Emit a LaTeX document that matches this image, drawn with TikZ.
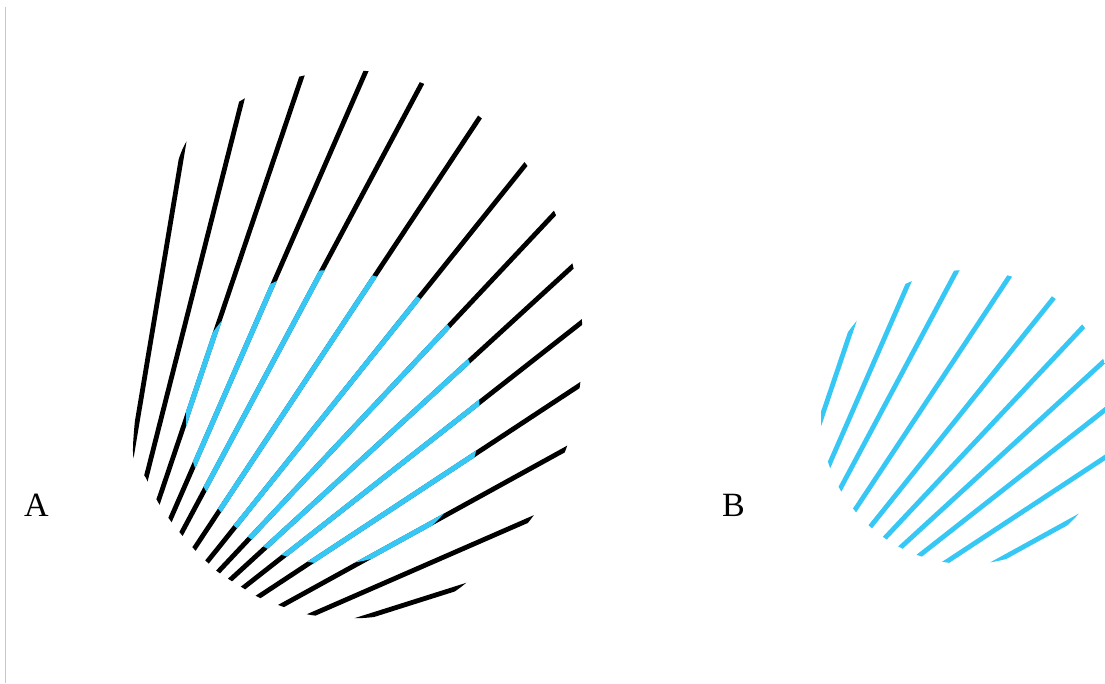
\documentclass[tikz,border=0pt]{standalone}
\usepackage{fontspec}
\setmainfont{Liberation Serif}
\definecolor{fanblue}{RGB}{54,199,244}
\begin{document}
\begin{tikzpicture}[x=1pt,y=-1pt,
  blackline/.style={line width=4.8pt, black, line cap=butt, shorten <=-15pt, shorten >=-15pt},
  blueline/.style={line width=4.8pt, fanblue, line cap=butt, shorten <=-15pt, shorten >=-15pt},
  panellabel/.style={font=\fontsize{34}{40}\selectfont, inner sep=0pt, anchor=base},
  frameline/.style={line width=1pt, black!22}]
\useasboundingbox (0,0) rectangle (1105,683);
\clip (0,0) rectangle (1105,683);
\draw[frameline] (5,7) -- (5,683);
\def\fanlines{133/447/183/148, 146/478/242/100, 158/502/302/76, 170/520/366/71,
  181/534/422/83, 194/549/480/117, 207/562/526/164, 218/572/555/213,
  230/580/573/266, 243/588/582/322, 258/597/580/385, 281/606/566/449,
  311/615/531/519, 363/618/461/587}
% panel A
\begin{scope}
  \clip plot[smooth cycle, tension=0.5] coordinates {
    (133,447) (146,478) (158,502) (170,520) (181,534) (194,549) (207,562)
    (218,572) (230,580) (243,588) (258,597) (281,606) (311,615) (363,618)
    (414,609)
    (461,587) (531,519) (566,449) (580,385) (582,322) (573,266) (555,213)
    (526,164) (480,117) (422,83) (366,71) (302,76) (242,100) (183,148)
    (151,296)};
  \foreach \xa/\ya/\xb/\yb in \fanlines {
    \draw[blackline] (\xa,\ya) -- (\xb,\yb);
  }
  \clip (333,417) circle[radius=147pt];
  \foreach \xa/\ya/\xb/\yb in \fanlines {
    \draw[blueline, line width=5.1pt] (\xa,\ya) -- (\xb,\yb);
  }
\end{scope}
% panel B
\begin{scope}[xshift=635pt]
  \clip (333,417) circle[radius=147pt];
  \foreach \xa/\ya/\xb/\yb in \fanlines {
    \draw[blueline] (\xa,\ya) -- (\xb,\yb);
  }
\end{scope}
\node[panellabel] (labA) at (36.5,516) {A};
\node[panellabel] (labB) at (733.5,516) {B};
\end{tikzpicture}
\end{document}
